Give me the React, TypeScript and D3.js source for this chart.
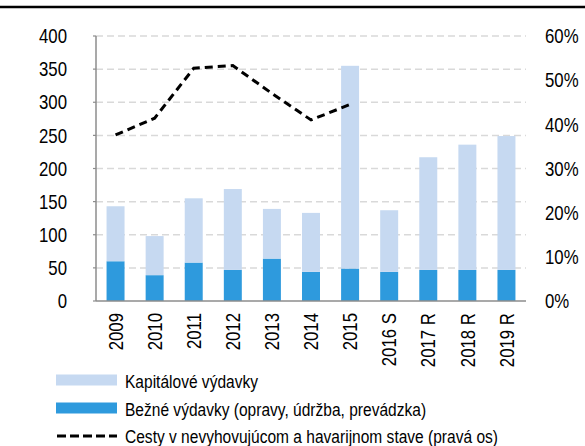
import * as d3 from "d3";
import { useEffect, useRef } from "react";

const categories = ["2009", "2010", "2011", "2012", "2013", "2014", "2015", "2016 S", "2017 R", "2018 R", "2019 R"];
// bežné výdavky (spodná časť)
const bezne = [60, 39, 58, 47, 64, 44, 49, 44, 47, 47, 47];
// kapitálové výdavky (horná časť)
const kapitalove = [83, 59, 97, 122, 75, 89, 306, 93, 170, 189, 202];
// cesty v nevyhovujúcom a havarijnom stave, % (pravá os)
const cesty = [37.6, 41.4, 52.7, 53.3, 47.0, 41.0, 44.5];
const leftTicks = [0, 50, 100, 150, 200, 250, 300, 350, 400];
const rightTicks = [0, 10, 20, 30, 40, 50, 60];
const legendLabels = [
  "Kapitálové výdavky",
  "Bežné výdavky (opravy, údržba, prevádzka)",
  "Cesty v nevyhovujúcom a havarijnom stave (pravá os)",
];

const FONT = "'Liberation Sans', Arial, sans-serif";
const SQUEEZE = 0.84; // pôvodné písmo je zúžené
const LIGHT = "#C6D9F1";
const DARK = "#2E9ADD";

const App = () => {
  const ref = useRef<SVGSVGElement>(null);

  useEffect(() => {
    const svg = d3.select(ref.current);
    svg.selectAll("*").remove();

    const width = 585;
    const left = 96, right = 526, top = 36, bottom = 301;

    const x = d3.scaleBand().domain(categories).range([left, right]).paddingInner(0.54).paddingOuter(0.27);
    const y = d3.scaleLinear().domain([0, 400]).range([bottom, top]);
    const y2 = d3.scaleLinear().domain([0, 60]).range([bottom, top]);

    // zúžený text: skupina s posunom a horizontálnou mierkou
    const label = (g: any, tx: number, ty: number, txt: string, size: number, anchor: string, rot = 0) => {
      g.append("g")
        .attr("transform", `translate(${tx},${ty}) rotate(${rot}) scale(${SQUEEZE},1)`)
        .append("text")
        .attr("text-anchor", anchor)
        .attr("dy", "0.36em")
        .style("font-family", FONT).style("font-size", size + "px")
        .attr("fill", "#000")
        .text(txt);
    };

    // horná čiara
    svg.append("line")
      .attr("x1", 0).attr("x2", width).attr("y1", 7).attr("y2", 7)
      .attr("stroke", "#000").attr("stroke-width", 2.5);

    // mriežka
    svg.selectAll("line.grid")
      .data(leftTicks.filter(d => d > 0))
      .join("line")
      .attr("class", "grid")
      .attr("x1", left).attr("x2", right)
      .attr("y1", d => y(d)).attr("y2", d => y(d))
      .attr("stroke", "#D9D9D9").attr("stroke-width", 1.5)
      .attr("stroke-dasharray", "7,4");

    // stĺpce
    const stacked = d3.stack<number>()
      .keys(["bezne", "kapitalove"])
      .value((i, key) => (key === "bezne" ? bezne[i] : kapitalove[i]))(categories.map((_, i) => i));
    const colors = [DARK, LIGHT];
    stacked.forEach((layer, li) => {
      svg.append("g")
        .selectAll("rect")
        .data(layer)
        .join("rect")
        .attr("x", (d) => x(categories[d.data])!)
        .attr("width", x.bandwidth())
        .attr("y", d => y(d[1]))
        .attr("height", d => y(d[0]) - y(d[1]))
        .attr("fill", colors[li]);
    });

    // osi
    svg.append("line")
      .attr("x1", left).attr("x2", left).attr("y1", top).attr("y2", bottom)
      .attr("stroke", "#8C8C8C").attr("stroke-width", 1.5);
    svg.selectAll("line.ltick")
      .data(leftTicks)
      .join("line")
      .attr("class", "ltick")
      .attr("x1", left - 3).attr("x2", left)
      .attr("y1", d => y(d)).attr("y2", d => y(d))
      .attr("stroke", "#8C8C8C").attr("stroke-width", 1.2);
    svg.append("line")
      .attr("x1", left).attr("x2", right).attr("y1", bottom).attr("y2", bottom)
      .attr("stroke", "#8C8C8C").attr("stroke-width", 1.5);

    // popisy osí
    const axisText = svg.append("g");
    leftTicks.forEach(d => label(axisText, 67, y(d), String(d), 20, "end"));
    rightTicks.forEach(d => label(axisText, 545, y2(d), d + "%", 20, "start"));
    categories.forEach(d => label(axisText, x(d)! + x.bandwidth() / 2, 313, d, 20, "end", -90));

    // čiara
    const line = d3.line<number>()
      .x((_, i) => x(categories[i])! + x.bandwidth() / 2)
      .y(d => y2(d));
    svg.append("path")
      .attr("d", line(cesty))
      .attr("fill", "none").attr("stroke", "#000").attr("stroke-width", 3)
      .attr("stroke-dasharray", "8,5");

    // legenda
    const lg = svg.append("g");
    const rowY = [380, 408, 435];
    lg.append("rect").attr("x", 56).attr("y", rowY[0] - 5.5).attr("width", 61).attr("height", 11).attr("fill", LIGHT);
    lg.append("rect").attr("x", 56).attr("y", rowY[1] - 5.5).attr("width", 61).attr("height", 11).attr("fill", DARK);
    lg.append("line").attr("x1", 57).attr("x2", 117).attr("y1", rowY[2] + 1).attr("y2", rowY[2] + 1)
      .attr("stroke", "#000").attr("stroke-width", 3).attr("stroke-dasharray", "9,4");
    legendLabels.forEach((t, i) => label(lg, 125, rowY[i] + 1, t, 18.5, "start"));
  }, []);

  return (
    <svg ref={ref} width={585} height={446}
      style={{ position: "absolute", left: 0, top: 0, background: "#fff" }} />
  );
};

export default App;
